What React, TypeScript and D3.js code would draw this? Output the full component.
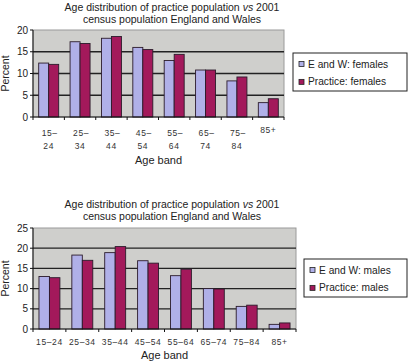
import React from 'react';
import * as d3 from 'd3';

// age bands and series
const ageBands = ['15–24', '25–34', '35–44', '45–54', '55–64', '65–74', '75–84', '85+'];
const femaleEW = [12.4, 17.3, 18.1, 16.0, 13.0, 10.8, 8.3, 3.3];
const femalePractice = [12.1, 16.9, 18.5, 15.5, 14.4, 10.8, 9.2, 4.2];
const maleEW = [13.0, 18.3, 18.9, 16.9, 13.2, 10.0, 5.6, 1.15];
const malePractice = [12.7, 17.0, 20.4, 16.3, 14.8, 9.9, 5.9, 1.5];
const femaleTicks = [0, 5, 10, 15, 20];
const maleTicks = [0, 5, 10, 15, 20, 25];
const titleLines = ['Age distribution of practice population vs 2001', 'census population England and Wales'];

const EW_COLOR = '#b0b0e8';
const PR_COLOR = '#a3195b';
const FONT = 'Liberation Sans, Arial, sans-serif';

type PanelProps = {
  top: number;
  plot: { x0: number; x1: number; y0: number; y1: number };
  ticks: number[];
  ew: number[];
  pr: number[];
  legend: string[];
  legendBox: { x: number; y: number; w: number; h: number };
  splitLabels: boolean;
};

const Title = ({ y }: { y: number }) => (
  <text x={172} y={y} textAnchor="middle" fontSize={10.5} fill="#222">
    <tspan x={172}>Age distribution of practice population <tspan fontStyle="italic">vs</tspan> 2001</tspan>
    <tspan x={172} dy={11.5}>{titleLines[1]}</tspan>
  </text>
);

const Panel = ({ plot, ticks, ew, pr, legend, legendBox, splitLabels, top }: PanelProps) => {
  const x0 = d3.scaleBand<string>().domain(ageBands).range([plot.x0, plot.x1]).padding(0);
  const x1 = d3.scaleBand<string>().domain(['ew', 'pr']).range([0, x0.bandwidth()]).paddingInner(0).paddingOuter(0.57);
  const y = d3.scaleLinear().domain([0, ticks[ticks.length - 1]]).range([plot.y1, plot.y0]);
  const series = [
    { key: 'ew', vals: ew, color: EW_COLOR },
    { key: 'pr', vals: pr, color: PR_COLOR },
  ];
  const boundaries = ageBands.map(b => x0(b)!).concat([plot.x1]);

  return (
    <g>
      <Title y={top} />
      <rect x={plot.x0} y={plot.y0} width={plot.x1 - plot.x0} height={plot.y1 - plot.y0} fill="#cfcfcc" stroke="#9a9a9a" strokeWidth={1} />
      {ticks.filter(t => t > 0 && t < ticks[ticks.length - 1]).map(t => (
        <line key={t} x1={plot.x0} x2={plot.x1} y1={y(t)} y2={y(t)} stroke="#222" strokeWidth={1.3} />
      ))}
      {series.map(s =>
        ageBands.map((b, i) => (
          <rect key={s.key + b} x={x0(b)! + x1(s.key)!} y={y(s.vals[i])} width={x1.bandwidth()} height={y(0) - y(s.vals[i])}
            fill={s.color} stroke="#2b1b2b" strokeWidth={0.9} />
        ))
      )}
      {/* axes */}
      <line x1={plot.x0} x2={plot.x0} y1={plot.y0} y2={plot.y1} stroke="#111" strokeWidth={1} />
      <line x1={plot.x0} x2={plot.x1} y1={plot.y1} y2={plot.y1} stroke="#111" strokeWidth={1.2} />
      {ticks.map(t => (
        <g key={t}>
          <line x1={plot.x0 - 3} x2={plot.x0} y1={y(t)} y2={y(t)} stroke="#111" />
          <text x={plot.x0 - 5} y={y(t)} dy="0.35em" textAnchor="end" fontSize={10} fill="#222">{t}</text>
        </g>
      ))}
      {boundaries.map((bx, i) => (
        <line key={i} x1={bx} x2={bx} y1={plot.y1} y2={plot.y1 + 3} stroke="#111" />
      ))}
      {ageBands.map(b => {
        const cx = x0(b)! + x0.bandwidth() / 2;
        if (splitLabels && b.includes('–')) {
          const [a, c] = b.split('–');
          return (
            <text key={b} x={cx} y={plot.y1 + 19} textAnchor="middle" fontSize={8.5} fill="#333" letterSpacing={0.6}>
              <tspan x={cx + 1}>{a}–</tspan>
              <tspan x={cx} dy={13}>{c}</tspan>
            </text>
          );
        }
        return (
          <text key={b} x={cx} y={plot.y1 + 16} textAnchor="middle" fontSize={8.5} fill="#333" letterSpacing={0.6}>{b}</text>
        );
      })}
      <text x={(plot.x0 + plot.x1) / 2} y={splitLabels ? plot.y1 + 47 : plot.y1 + 30} textAnchor="middle" fontSize={11} fill="#222">Age band</text>
      <text transform={`translate(9,${(plot.y0 + plot.y1) / 2}) rotate(-90)`} textAnchor="middle" fontSize={10.5} fill="#222">Percent</text>
      {/* legend */}
      <rect x={legendBox.x} y={legendBox.y} width={legendBox.w} height={legendBox.h} fill="#fff" stroke="#222" strokeWidth={1} />
      {series.map((s, i) => {
        const ly = legendBox.y + legendBox.h * (i === 0 ? 0.29 : 0.76);
        return (
          <g key={s.key}>
            <rect x={legendBox.x + 6} y={ly - 2.5} width={5} height={5} fill={s.color} stroke="#222" strokeWidth={0.8} />
            <text x={legendBox.x + 15} y={ly} dy="0.35em" fontSize={10.2} fill="#222">{legend[i]}</text>
          </g>
        );
      })}
    </g>
  );
};

export default function App() {
  return (
    <svg width={408} height={362} style={{ position: 'absolute', left: 0, top: 0, fontFamily: FONT, background: '#fff' }}>
      <Panel top={11} plot={{ x0: 33, x1: 284, y0: 30, y1: 117 }} ticks={femaleTicks} ew={femaleEW} pr={femalePractice}
        legend={['E and W: females', 'Practice: females']} legendBox={{ x: 293, y: 53, w: 114, h: 38 }} splitLabels={true} />
      <Panel top={208} plot={{ x0: 33, x1: 296, y0: 228, y1: 329 }} ticks={maleTicks} ew={maleEW} pr={malePractice}
        legend={['E and W: males', 'Practice: males']} legendBox={{ x: 304, y: 259, w: 103, h: 38 }} splitLabels={false} />
    </svg>
  );
}
